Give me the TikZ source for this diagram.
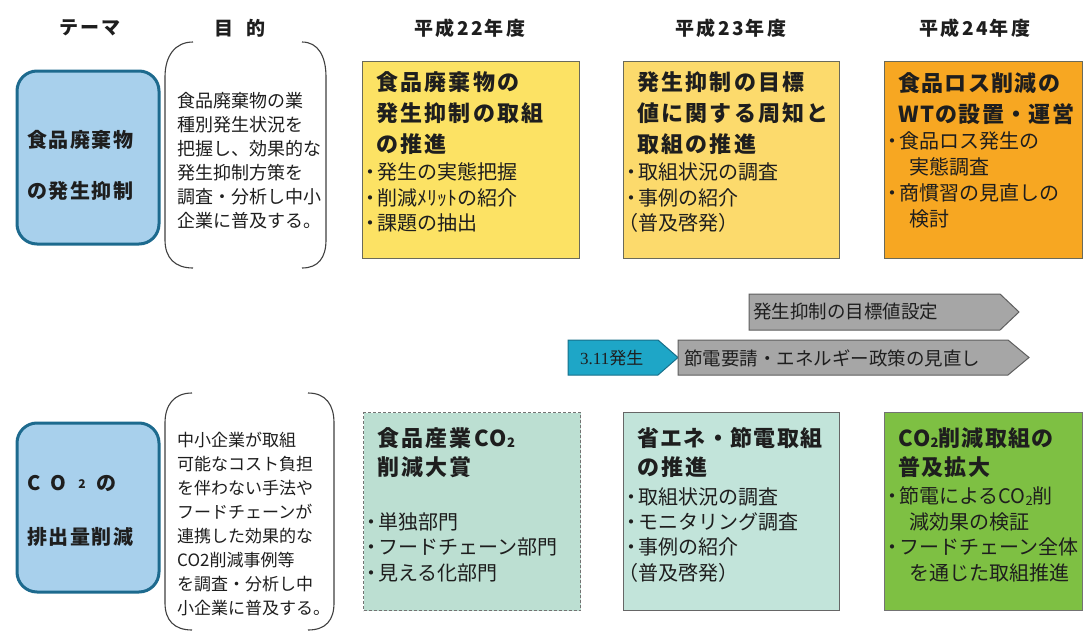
\documentclass[tikz,border=0pt]{standalone}
\usepackage{fontspec}
\setmainfont{Noto Sans CJK JP}
\newfontfamily\tnr{Liberation Serif}
\definecolor{thF}{HTML}{A8D0EC}
\definecolor{thB}{HTML}{1D6A8E}
\definecolor{y22}{HTML}{FCE264}
\definecolor{y23}{HTML}{FCDA6C}
\definecolor{o24}{HTML}{F7A722}
\definecolor{g22}{HTML}{BCDFD2}
\definecolor{g23}{HTML}{C2E4DA}
\definecolor{g24}{HTML}{7EC043}
\definecolor{arG}{HTML}{A6A6A6}
\definecolor{arB}{HTML}{5E5E5E}
\definecolor{tlF}{HTML}{1EA6C7}
\definecolor{tlB}{HTML}{176F8A}
\definecolor{txt}{HTML}{1E1E1E}
\definecolor{bxB}{HTML}{6A6A5A}
\newcommand\bul{\makebox[14pt][c]{・}}
\newcommand\ind{\hspace*{14pt}}
\newcommand\indd{\hspace*{24pt}}
\newcommand\cosub[1]{{\fontsize{13}{13}\selectfont\raisebox{-1.5pt}{#1}}}
\begin{document}
\begin{tikzpicture}[x=1pt,y=-1pt,
  every node/.style={inner sep=0pt, text=txt},
  hdr/.style={font=\fontsize{19}{19}\selectfont\bfseries\addfontfeature{LetterSpace=12}},
  thx/.style={anchor=west, font=\fontsize{20}{20}\selectfont\bfseries\addfontfeature{LetterSpace=8}},
  thm/.style={draw=thB, line width=3pt, fill=thF, rounded corners=20pt, anchor=north west, minimum width=142pt},
  ubox/.style={draw=bxB, line width=1.2pt, anchor=north west, minimum height=197pt},
  lbox/.style={draw=bxB, line width=1.2pt, anchor=north west, minimum height=198pt},
  hd/.style={anchor=west, font=\fontsize{22}{22}\selectfont\bfseries\addfontfeature{LetterSpace=10}},
  hdf/.style={anchor=west, font=\fontsize{22}{22}\selectfont\bfseries\addfontfeature{LetterSpace=6}},
  bl/.style={anchor=west, font=\fontsize{20}{20}\selectfont},
  pa/.style={anchor=west, font=\fontsize{18}{18}\selectfont},
  pb/.style={anchor=west, font=\fontsize{17}{17}\selectfont},
  brk/.style={draw=black!75, line width=1.1pt},
  arw/.style={draw=arB, fill=arG, line width=1pt},
  tl/.style={draw=tlB, fill=tlF, line width=1pt},
  atx/.style={anchor=west, font=\fontsize{18.5}{18.5}\selectfont}
]
\useasboundingbox (0,0) rectangle (1088,632);
\fill[white] (0,0) rectangle (1088,632);

% column headers
\node[hdr] (hT) at (90,28) {テーマ};
\node[hdr] (hP) at (240,28) {目\hspace{14pt}的};
\node[hdr] (h22) at (470,28) {平成22年度};
\node[hdr] (h23) at (731,28) {平成23年度};
\node[hdr] (h24) at (975,28) {平成24年度};

% theme boxes
\node[thm, minimum height=173pt] (th1) at (15.5,69.5) {};
\node[thx] (t1a) at (27,140) {食品廃棄物};
\node[thx] (t1b) at (27,191) {の発生抑制};
\node[thm, minimum height=169pt] (th2) at (15.5,421.5) {};
\node[thx] (t2a) at (27,483) {C\hspace{10pt}O\hspace{12pt}\raisebox{1.5pt}{\fontsize{12}{12}\selectfont 2}\hspace{11pt}の};
\node[thx] (t2b) at (27,537) {排出量削減};

% purpose brackets
\draw[brk] (193,42) .. controls (175,42) and (165,56) .. (165,77) -- (165,240) .. controls (165,258) and (175,268) .. (193,268);
\draw[brk] (302,42) .. controls (318,42) and (326,56) .. (326,77) -- (326,240) .. controls (326,258) and (318,268) .. (302,268);
\node[pa] (p1a) at (177,101) {食品廃棄物の業};
\node[pa] (p1b) at (177,125) {種別発生状況を};
\node[pa] (p1c) at (177,149) {把握し、効果的な};
\node[pa] (p1d) at (177,173) {発生抑制方策を};
\node[pa] (p1e) at (177,197) {調査・分析し中小};
\node[pa] (p1f) at (177,221) {企業に普及する。};

\draw[brk] (192,393) .. controls (174,393) and (165,405) .. (165,423) -- (165,603) .. controls (165,620) and (174,630) .. (192,630);
\draw[brk] (308,393) .. controls (326,393) and (334,405) .. (334,423) -- (334,603) .. controls (334,620) and (326,630) .. (308,630);
\node[pb] (p2a) at (177,440) {中小企業が取組};
\node[pb] (p2b) at (177,464) {可能なコスト負担};
\node[pb] (p2c) at (177,488) {を伴わない手法や};
\node[pb] (p2d) at (177,512) {フードチェーンが};
\node[pb] (p2e) at (177,536) {連携した効果的な};
\node[pb] (p2f) at (177,560) {CO2削減事例等};
\node[pb] (p2g) at (177,584) {を調査・分析し中};
\node[pb] (p2h) at (177,608) {小企業に普及する。};

% upper boxes
\node[ubox, fill=y22, minimum width=217pt] (u22) at (362,61) {};
\node[hd] (u22a) at (376,82) {食品廃棄物の};
\node[hd] (u22b) at (376,113) {発生抑制の取組};
\node[hd] (u22c) at (376,144) {の推進};
\node[bl] (u22d) at (363,172) {\bul 発生の実態把握};
\node[bl] (u22e) at (363,198) {\bul 削減ﾒﾘｯﾄの紹介};
\node[bl] (u22f) at (363,223) {\bul 課題の抽出};

\node[ubox, fill=y23, minimum width=216pt] (u23) at (623,61) {};
\node[hd] (u23a) at (637,82) {発生抑制の目標};
\node[hd] (u23b) at (637,113) {値に関する周知と};
\node[hd] (u23c) at (637,144) {取組の推進};
\node[bl] (u23d) at (624,172) {\bul 取組状況の調査};
\node[bl] (u23e) at (624,198) {\bul 事例の紹介};
\node[bl] (u23f) at (618,223) {（普及啓発）};

\node[ubox, fill=o24, minimum width=198pt] (u24) at (884,61) {};
\node[hdf] (u24a) at (898,83) {食品ロス削減の};
\node[hdf] (u24b) at (898,114) {WTの設置・運営};
\node[bl] (u24c) at (885,141) {\bul 食品ロス発生の};
\node[bl] (u24d) at (885,167) {\indd 実態調査};
\node[bl] (u24e) at (885,193) {\bul 商慣習の見直しの};
\node[bl] (u24f) at (885,219) {\indd 検討};

% arrows
\draw[arw] (749,294) -- (1000,294) -- (1019,312) -- (1000,330) -- (749,330) -- cycle;
\node[atx] (a1t) at (753,312) {発生抑制の目標値設定};
\draw[tl] (568,340) -- (658,340) -- (678,357.5) -- (658,375) -- (568,375) -- cycle;
\node[anchor=west, font=\fontsize{17}{17}\selectfont] (a0t) at (580,358) {{\tnr 3.11}発生};
\draw[arw] (678,340) -- (1008,340) -- (1029,357.5) -- (1008,375) -- (678,375) -- cycle;
\node[atx] (a2t) at (684,358) {節電要請・エネルギー政策の見直し};

% lower boxes
\node[lbox, fill=g22, draw=black!55, dash pattern=on 3pt off 2pt, minimum width=217pt] (l22) at (363,412) {};
\node[hd] (l22a) at (377,438) {食品産業CO\cosub{2}};
\node[hd] (l22b) at (377,467) {削減大賞};
\node[bl] (l22c) at (364,522) {\bul 単独部門};
\node[bl] (l22d) at (364,547) {\bul フードチェーン部門};
\node[bl] (l22e) at (364,573) {\bul 見える化部門};

\node[lbox, fill=g23, draw=black!60, minimum width=216pt] (l23) at (623,412) {};
\node[hdf] (l23a) at (637,438) {省エネ・節電取組};
\node[hd] (l23b) at (637,467) {の推進};
\node[bl] (l23c) at (624,497) {\bul 取組状況の調査};
\node[bl] (l23d) at (624,522) {\bul モニタリング調査};
\node[bl] (l23e) at (624,547) {\bul 事例の紹介};
\node[bl] (l23f) at (618,573) {（普及啓発）};

\node[lbox, fill=g24, draw=black!55, minimum width=198pt] (l24) at (884,412) {};
\node[hdf] (l24a) at (898,438) {CO\cosub{2}削減取組の};
\node[hdf] (l24b) at (898,467) {普及拡大};
\node[bl] (l24c) at (885,496) {\bul 節電によるCO\cosub{2}削};
\node[bl] (l24d) at (885,522) {\indd 減効果の検証};
\node[bl] (l24e) at (885,547) {\bul フードチェーン全体};
\node[bl] (l24f) at (885,573) {\indd を通じた取組推進};
\end{tikzpicture}
\end{document}
